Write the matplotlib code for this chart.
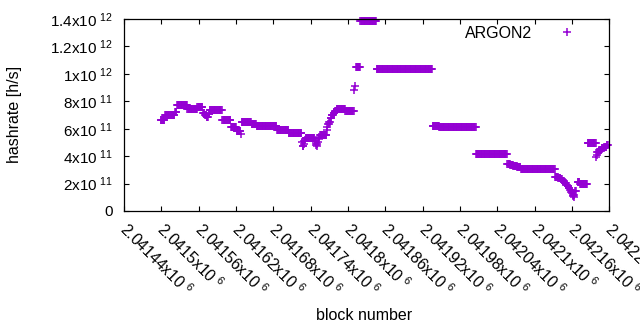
import numpy as np
import matplotlib
matplotlib.use("Agg")
import matplotlib.pyplot as plt
from matplotlib.transforms import ScaledTranslation, blended_transform_factory

plt.rcParams['font.family'] = ['Liberation Sans', 'DejaVu Sans']
plt.rcParams['mathtext.fontset'] = 'custom'
plt.rcParams['mathtext.rm'] = 'Liberation Sans'
plt.rcParams['mathtext.default'] = 'regular'

# runs of blocks with the same hashrate: first block, number of blocks, hashrate (x1e11)
run_start = [2041499, 2041506, 2041522, 2041525, 2041542, 2041558, 2041567, 2041570,
             2041573, 2041576, 2041578, 2041598, 2041612, 2041621, 2041628, 2041629,
             2041645, 2041653, 2041686, 2041705, 2041726, 2041727, 2041728, 2041729,
             2041730, 2041731, 2041732, 2041747, 2041748, 2041749, 2041750, 2041751,
             2041752, 2041753, 2041754, 2041755, 2041766, 2041767, 2041768, 2041770,
             2041772, 2041774, 2041777, 2041779, 2041782, 2041796, 2041810, 2041811,
             2041813, 2041820, 2041846, 2041936, 2041947, 2042006, 2042056, 2042061,
             2042066, 2042072, 2042078, 2042133, 2042138, 2042142, 2042145, 2042148,
             2042151, 2042153, 2042155, 2042157, 2042159, 2042160, 2042161, 2042162,
             2042163, 2042164, 2042165, 2042169, 2042173, 2042185, 2042199, 2042200,
             2042201, 2042204, 2042208, 2042212, 2042216]
run_len = [7, 16, 3, 17, 16, 9, 3, 3,
           3, 2, 20, 14, 9, 7, 1, 16,
           8, 33, 19, 21, 1, 1, 1, 1,
           1, 1, 15, 1, 1, 1, 1, 1,
           1, 1, 1, 11, 1, 1, 2, 2,
           2, 3, 2, 3, 14, 14, 1, 1,
           7, 26, 90, 11, 59, 50, 5, 5,
           6, 6, 55, 5, 4, 3, 3, 3,
           2, 2, 2, 2, 1, 1, 1, 1,
           1, 1, 2, 4, 12, 14, 1, 1,
           3, 4, 4, 4, 3]
run_val = [6.61, 7.03, 7.25, 7.70, 7.42, 7.56, 7.15, 7.0,
           6.82, 7.05, 7.35, 6.61, 6.10, 5.85, 5.60, 6.52,
           6.32, 6.23, 5.88, 5.66, 5.0, 4.75, 4.72, 4.9,
           5.1, 5.2, 5.30, 5.1, 4.95, 4.8, 4.75, 4.9,
           5.05, 5.25, 5.42, 5.57, 5.9, 6.15, 6.35, 6.51,
           6.76, 7.0, 7.17, 7.31, 7.45, 7.27, 8.85, 9.1,
           10.52, 13.82, 10.33, 6.18, 6.09, 4.19, 3.45, 3.35,
           3.25, 3.2, 3.04, 2.5, 2.4, 2.3, 2.2, 2.05,
           1.9, 1.8, 1.65, 1.5, 1.4, 1.3, 1.2, 1.1,
           1.02, 1.2, 1.45, 2.15, 2.0, 4.94, 3.95, 4.1,
           4.32, 4.45, 4.57, 4.7, 4.78]

xtick_vals = [2041440, 2041500, 2041560, 2041620, 2041680, 2041740, 2041800,
              2041860, 2041920, 2041980, 2042040, 2042100, 2042160, 2042220]
xtick_labels = ["2.04144x10$^{\\ 6}$", "2.0415x10$^{\\ 6}$", "2.04156x10$^{\\ 6}$",
                "2.04162x10$^{\\ 6}$", "2.04168x10$^{\\ 6}$", "2.04174x10$^{\\ 6}$",
                "2.0418x10$^{\\ 6}$", "2.04186x10$^{\\ 6}$", "2.04192x10$^{\\ 6}$",
                "2.04198x10$^{\\ 6}$", "2.04204x10$^{\\ 6}$", "2.0421x10$^{\\ 6}$",
                "2.04216x10$^{\\ 6}$", "2.04222x10$^{\\ 6}$"]
ytick_vals = [0, 2e11, 4e11, 6e11, 8e11, 1e12, 1.2e12, 1.4e12]
ytick_labels = ["0", "2x10$^{\\ 11}$", "4x10$^{\\ 11}$", "6x10$^{\\ 11}$", "8x10$^{\\ 11}$",
                "1x10$^{\\ 12}$", "1.2x10$^{\\ 12}$", "1.4x10$^{\\ 12}$"]

blocks = np.concatenate([np.arange(s, s + n) for s, n in zip(run_start, run_len)])
hashrate = np.repeat(run_val, run_len) * 1e11

fig = plt.figure(figsize=(6.4, 3.3), dpi=100)
ax = fig.add_axes([124 / 640, 1 - 211 / 330, 485.3 / 640, 192 / 330])

ax.plot(blocks, hashrate, linestyle='none', marker='+', ms=5.2, mew=1.1,
        color='#9400d3', label='ARGON2', clip_on=False)

ax.set_xlim(2041440, 2042220)
ax.set_ylim(0, 1.4e12)
ax.set_xticks(xtick_vals)
ax.set_yticks(ytick_vals, ytick_labels)

# rotated x labels, gnuplot style (start at the tick and run down to the right)
trans = blended_transform_factory(ax.transData, ax.transAxes) + \
    ScaledTranslation(4.0 / 72, -6.2 / 72, fig.dpi_scale_trans)
for xv, lab in zip(xtick_vals, xtick_labels):
    ax.text(xv, 0, lab, transform=trans, rotation=-45, rotation_mode='anchor',
            ha='left', va='top', fontsize=11.3, clip_on=False)

ax.tick_params(direction='in', length=3.5, width=0.8, labelsize=11,
               top=True, right=True, color='black')
ax.tick_params(axis='x', labelbottom=False)
ax.tick_params(axis='y', pad=8)
for sp in ax.spines.values():
    sp.set_linewidth(0.9)

fig.text(364 / 640, 1 - 315 / 330, "block number", ha='center', va='center', fontsize=11.5)
fig.text(15 / 640, 1 - 114 / 330, "hashrate [h/s]", ha='center', va='center',
         rotation=90, fontsize=11.5)

ax.legend(loc='upper right', bbox_to_anchor=(0.946, 0.965), frameon=False,
          markerfirst=False, borderpad=0, borderaxespad=0, handletextpad=1.2,
          fontsize=11.5)

fig.savefig("out.png", dpi=100)
